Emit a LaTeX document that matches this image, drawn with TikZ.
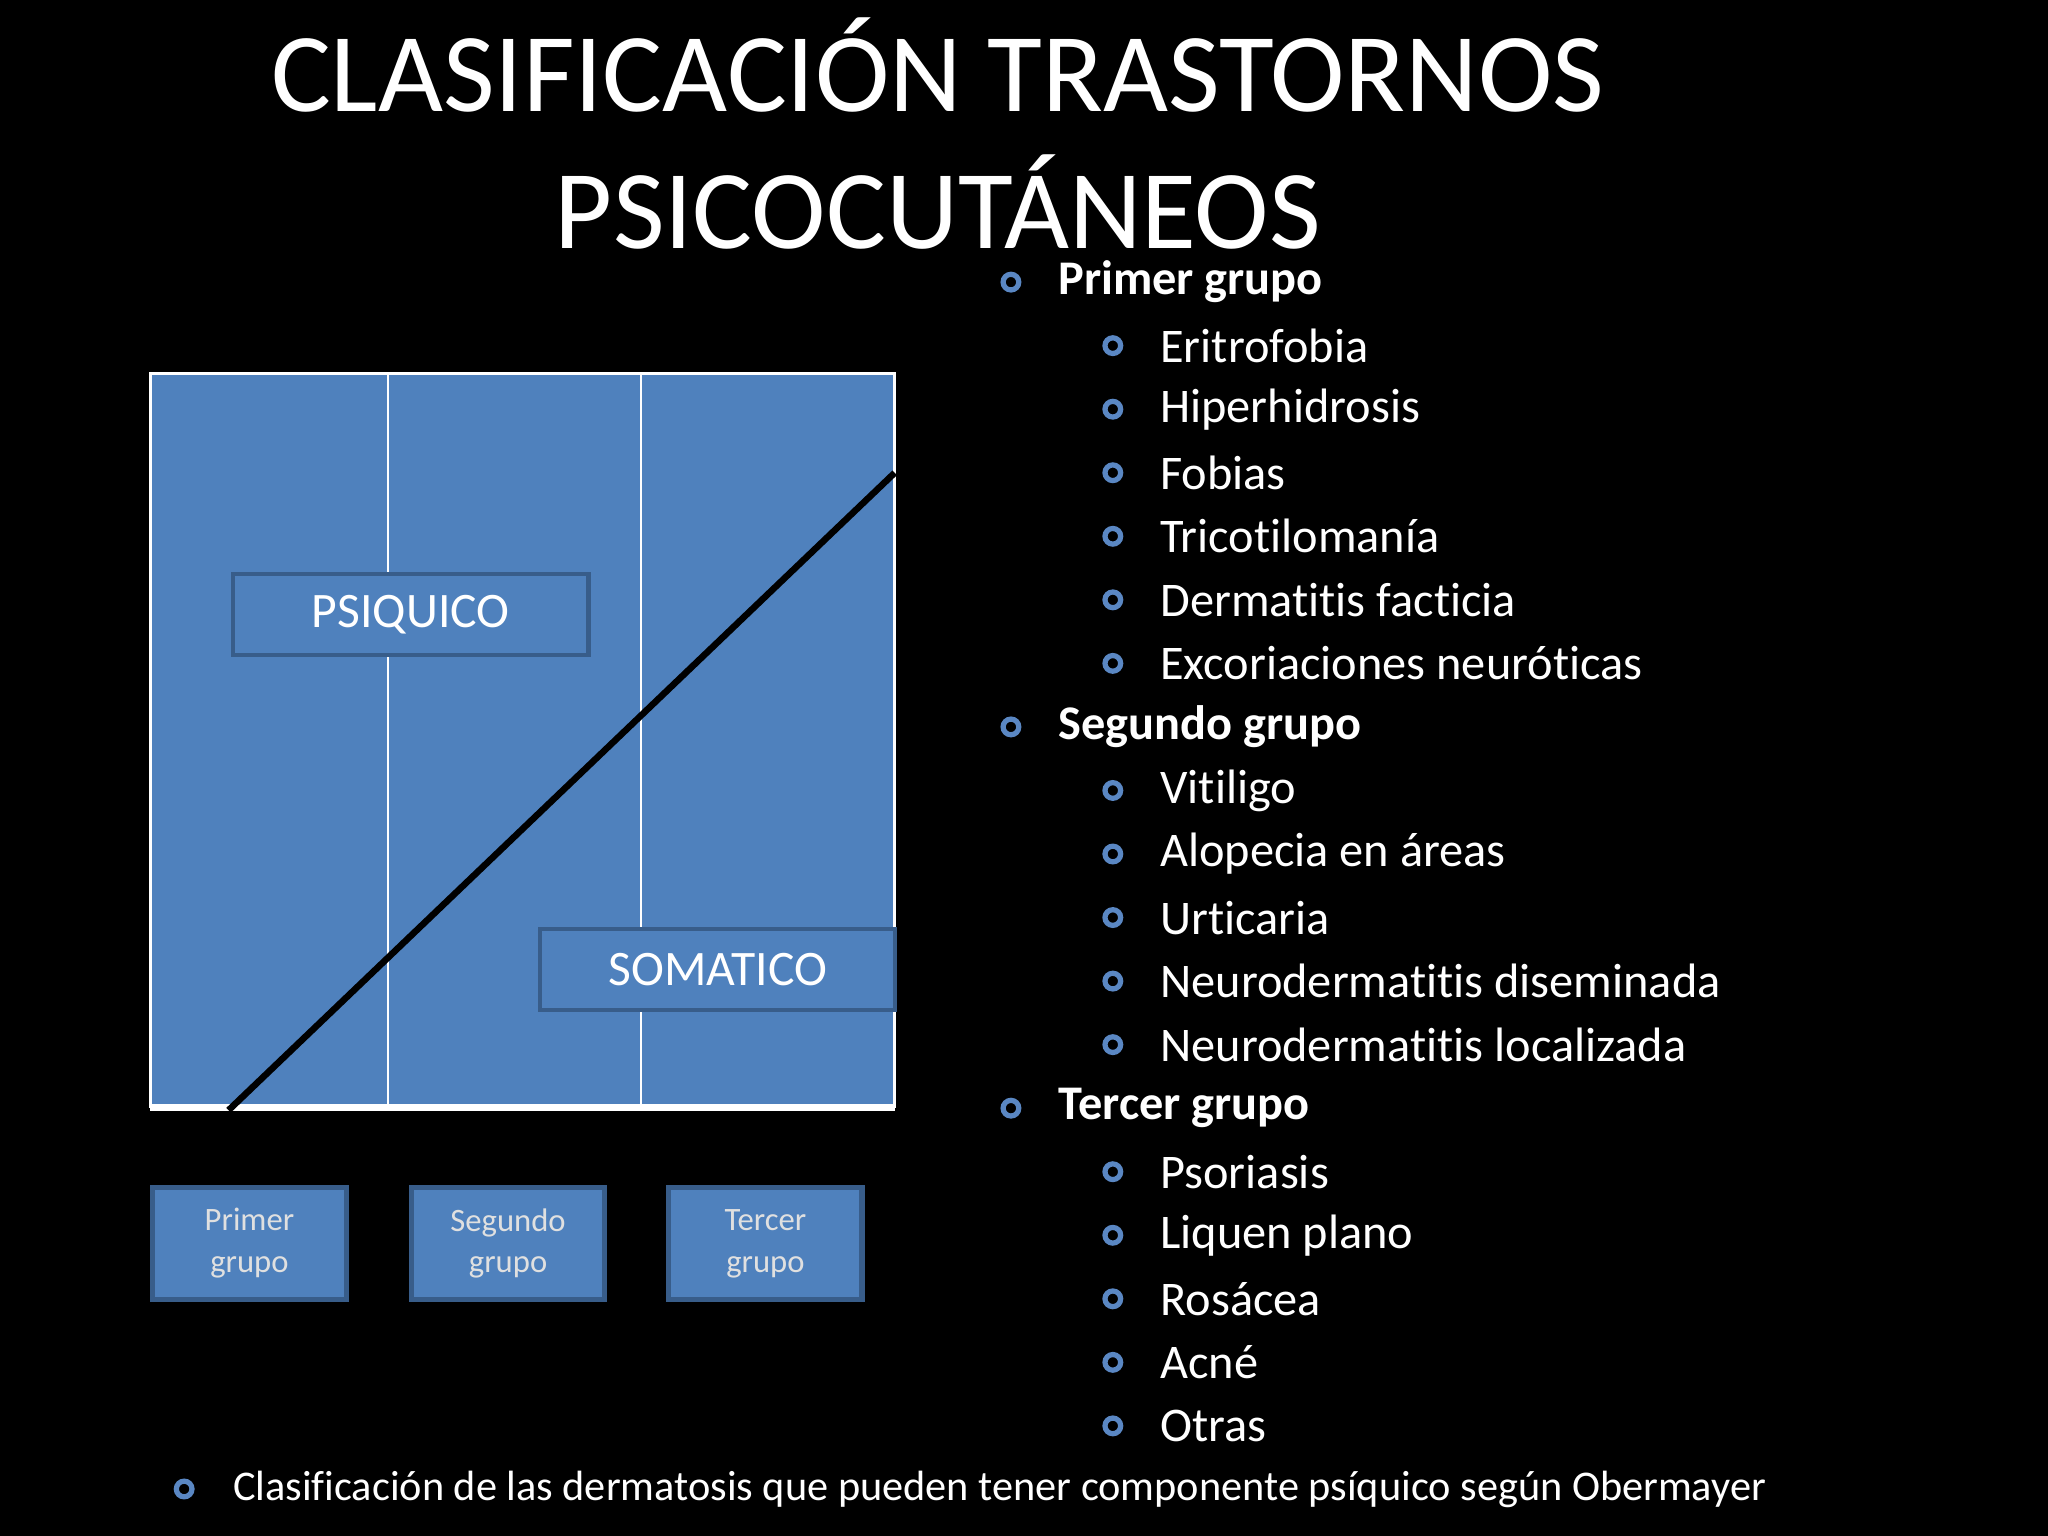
\documentclass[tikz,border=0pt]{standalone}
\usepackage{fontspec}
\setmainfont[Ligatures={NoCommon}]{Carlito}
\definecolor{bl}{RGB}{79,129,189}
\definecolor{dbl}{RGB}{56,93,138}
\definecolor{bul}{RGB}{90,135,195}
\begin{document}
\begin{tikzpicture}[x=0.5pt,y=-0.5pt,
 bul/.style={draw=bul,line width=2pt,circle,inner sep=0pt,minimum size=6pt},
 itm/.style={anchor=west,text=white,font=\fontsize{18.5}{20}\selectfont,inner sep=0pt},
 lbl/.style={draw=dbl,line width=1.6pt,fill=bl,text=white,font=\fontsize{19}{20}\selectfont,inner sep=0pt},
 grp/.style={draw=dbl,line width=2pt,fill=bl,text=white!88!black,align=center,font=\fontsize{12.5}{16}\selectfont,inner sep=0pt}]
\fill[black] (0,0) rectangle (1568,1176);
\useasboundingbox (0,0) rectangle (1568,1176);
\node[text=white,font=\fontsize{43}{50}\selectfont] (t1) at (718,50) {CLASIFICACIÓN TRASTORNOS};
\node[text=white,font=\fontsize{43}{50}\selectfont] (t2) at (718,155) {PSICOCUTÁNEOS};
% chart
\fill[bl] (115,286) rectangle (685,848);
\draw[white,line width=1pt] (115,848) -- (115,286) -- (685,286) -- (685,848);
\draw[white,line width=0.8pt] (297,286) -- (297,848) (491,286) -- (491,848);
\draw[white,line width=2.5pt] (115,848) -- (685,848);
\coordinate (d1) at (175,850); \coordinate (d2) at (685,362);
\draw[black,line width=2.5pt] (d1) -- (d2);
\node[lbl,minimum width=136pt,minimum height=31pt] (ps) at (314.5,470.5) {PSIQUICO};
\node[lbl,minimum width=136pt,minimum height=31pt] (so) at (549.5,742.5) {SOMATICO};
\node[grp,minimum width=74pt,minimum height=43pt] (g1) at (191,952) {Primer\\grupo};
\node[grp,minimum width=74pt,minimum height=43pt] (g2) at (389,952) {Segundo\\grupo};
\node[grp,minimum width=74pt,minimum height=43pt] (g3) at (586,952) {Tercer\\grupo};
% list
\foreach \t [count=\i from 0] in {{\textbf{Primer grupo}},Eritrofobia,Hiperhidrosis,Fobias,Tricotilomanía,Dermatitis facticia,Excoriaciones neuróticas,{\textbf{Segundo grupo}},Vitiligo,Alopecia en áreas,Urticaria,Neurodermatitis diseminada,Neurodermatitis localizada,{\textbf{Tercer grupo}},Psoriasis,Liquen plano,Rosácea,Acné,Otras}{
 \pgfmathsetmacro{\yy}{216+48.65*\i}
 \ifnum\i=0 \def\lv{0}\else\ifnum\i=7 \def\lv{0}\else\ifnum\i=13 \def\lv{0}\else\def\lv{1}\fi\fi\fi
 \pgfmathsetmacro{\bx}{774+78*\lv}
 \node[bul] (b\i) at (\bx,\yy) {};
 \node[itm] (l\i) at (\bx+36,\yy) {\t};
}
\node[bul] (bb) at (141,1140) {};
\node[itm,font=\fontsize{16.2}{18}\selectfont] (lb) at (178,1140) {Clasificación de las dermatosis que pueden tener componente psíquico según Obermayer};
\end{tikzpicture}
\end{document}
